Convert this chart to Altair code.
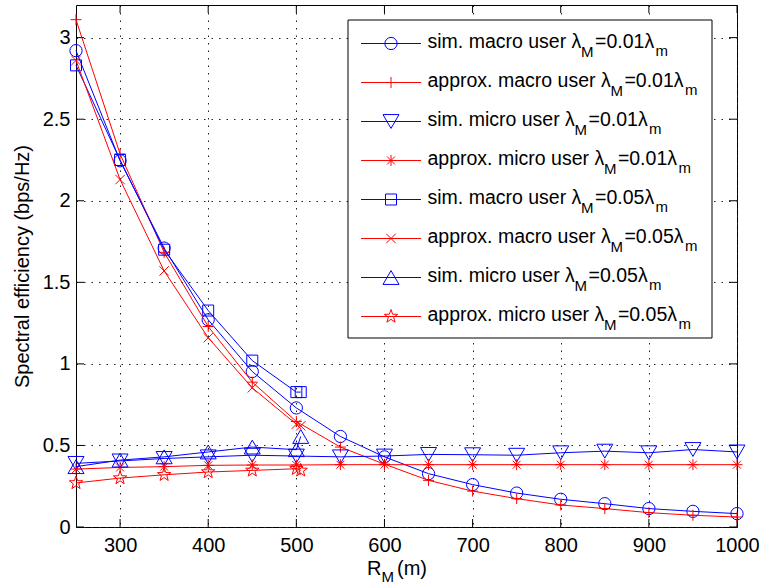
import math
import altair as alt
import pandas as pd

# ---------------- data ----------------
r_m_001 = [250, 300, 350, 400, 450, 500, 550, 600, 650, 700, 750, 800, 850, 900, 950, 1000]
sim_macro_001 = [2.92, 2.245, 1.71, 1.27, 0.953, 0.73, 0.555, 0.43, 0.327, 0.26, 0.208, 0.17, 0.143, 0.113, 0.096, 0.082]
approx_macro_001 = [3.11, 2.287, 1.684, 1.229, 0.888, 0.647, 0.49, 0.385, 0.286, 0.22, 0.174, 0.135, 0.113, 0.088, 0.072, 0.061]
sim_micro_001 = [0.39, 0.405, 0.42, 0.43, 0.44, 0.435, 0.43, 0.435, 0.445, 0.443, 0.44, 0.455, 0.465, 0.455, 0.475, 0.46]
approx_micro_001 = [0.355, 0.365, 0.37, 0.378, 0.38, 0.38, 0.382, 0.382, 0.382, 0.382, 0.382, 0.382, 0.382, 0.382, 0.382, 0.382]

r_m_005 = [250, 300, 350, 400, 450, 500, 505]
sim_macro_005 = [2.83, 2.25, 1.70, 1.327, 1.02, 0.827, 0.827]
approx_macro_005 = [2.86, 2.13, 1.57, 1.16, 0.853, 0.63, 0.62]
sim_micro_005 = [0.37, 0.41, 0.43, 0.46, 0.49, 0.474, 0.555]
approx_micro_005 = [0.27, 0.30, 0.32, 0.337, 0.347, 0.357, 0.347]

x_ticks = [300, 400, 500, 600, 700, 800, 900, 1000]
y_ticks = [0, 0.5, 1, 1.5, 2, 2.5, 3]

# ---------------- styles ----------------
W, H = 661, 522
FONT = "Liberation Sans"
BLUE, RED = "#0000ff", "#ff0000"

PLUS = "M-1,0L1,0M0,-1L0,1"
XMARK = "M-0.85,-0.85L0.85,0.85M-0.85,0.85L0.85,-0.85"
ASTER = "M-1,0L1,0M0,-1L0,1M-0.72,-0.72L0.72,0.72M-0.72,0.72L0.72,-0.72"
pts = []
for k in range(10):
    rad = 1.0 if k % 2 == 0 else 0.40
    ang = -math.pi / 2 + k * math.pi / 5
    pts.append(f"{rad * math.cos(ang):.3f},{rad * math.sin(ang):.3f}")
STAR = "M" + "L".join(pts) + "Z"

series = [
    ("sim. macro user ", "0.01", r_m_001, sim_macro_001, BLUE, "circle", 150),
    ("approx. macro user ", "0.01", r_m_001, approx_macro_001, RED, PLUS, 121),
    ("sim. micro user ", "0.01", r_m_001, sim_micro_001, BLUE, "triangle-down", 256),
    ("approx. micro user ", "0.01", r_m_001, approx_micro_001, RED, ASTER, 121),
    ("sim. macro user ", "0.05", r_m_005, sim_macro_005, BLUE, "square", 121),
    ("approx. macro user ", "0.05", r_m_005, approx_macro_005, RED, XMARK, 121),
    ("sim. micro user ", "0.05", r_m_005, sim_micro_005, BLUE, "triangle-up", 256),
    ("approx. micro user ", "0.05", r_m_005, approx_micro_005, RED, STAR, 196),
]

X = alt.X("x:Q", scale=alt.Scale(domain=[250, 1000], nice=False, zero=False),
          axis=alt.Axis(values=x_ticks, title=None, format="d", labelPadding=8,
                        labelFlush=False))
Y = alt.Y("y:Q", scale=alt.Scale(domain=[0, 3.2], nice=False, zero=False),
          axis=alt.Axis(values=y_ticks, title="Spectral efficiency (bps/Hz)",
                        labelExpr="datum.value + ''", labelPadding=6, labelFlush=False,
                        titleFont=FONT, titleFontSize=20, titleFontWeight="normal",
                        titleColor="black", titleAngle=270, titleX=-48, titleY=H / 2,
                        titleAlign="center", titleBaseline="alphabetic"))

layers = []

# inward ticks on all four sides
tx = pd.DataFrame({"x": x_ticks})
ty = pd.DataFrame({"y": y_ticks})
layers.append(alt.Chart(tx).mark_rule(color="black", strokeWidth=1).encode(x=X, y=alt.value(H), y2=alt.value(H - 8)))
layers.append(alt.Chart(tx).mark_rule(color="black", strokeWidth=1).encode(x=X, y=alt.value(0), y2=alt.value(8)))
layers.append(alt.Chart(ty).mark_rule(color="black", strokeWidth=1).encode(y=Y, x=alt.value(0), x2=alt.value(8)))
layers.append(alt.Chart(ty).mark_rule(color="black", strokeWidth=1).encode(y=Y, x=alt.value(W), x2=alt.value(W - 8)))

# data series
for prefix, lam, xs, ys, color, shape, size in series:
    df = pd.DataFrame({"x": xs, "y": ys})
    base = alt.Chart(df)
    layers.append(base.mark_line(color=color, strokeWidth=1).encode(x=X, y=Y))
    layers.append(base.mark_point(shape=shape, size=size, filled=False, color=color,
                                  strokeWidth=1, opacity=1).encode(x=X, y=Y))

# ---------------- manual legend ----------------
CW = {' ': 278, '(': 333, ')': 333, '.': 278, '0': 556, '1': 556, '5': 556, '=': 584,
      'M': 833, 'R': 722, 'a': 556, 'c': 500, 'e': 556, 'i': 222, 'm': 833, 'o': 556,
      'p': 556, 'r': 333, 's': 500, 'u': 556, 'x': 500}


def tw(s, fs):
    return sum(CW.get(c, 556) for c in s) * fs / 1000.0


one = pd.DataFrame({"d": [0]})
BOX_L, BOX_R, BOX_T, BOX_B = 272, 636, 15, 333
layers.append(alt.Chart(one).mark_rect(fill="white", stroke="black", strokeWidth=1).encode(
    x=alt.value(BOX_L), x2=alt.value(BOX_R), y=alt.value(BOX_T), y2=alt.value(BOX_B)))

FS, SUB = 19.5, 15
TX0 = 351.5
for i, (prefix, lam, xs, ys, color, shape, size) in enumerate(series):
    ly = 38.5 + 39 * i
    layers.append(alt.Chart(one).mark_rule(color=color, strokeWidth=1).encode(
        x=alt.value(285), x2=alt.value(345), y=alt.value(ly)))
    layers.append(alt.Chart(one).mark_point(shape=shape, size=size, filled=False, color=color,
                                            strokeWidth=1, opacity=1).encode(
        x=alt.value(315), y=alt.value(ly)))
    lx = TX0 + tw(prefix, FS)
    pieces = [
        (TX0, ly + 4.5, prefix + "λ", FS),
        (lx + 9.5, ly + 13, "M", SUB),
        (lx + 23.5, ly + 4.5, "=" + lam + "λ", FS),
        (lx + 84, ly + 12, "m", SUB),
    ]
    for px, py, txt, fs in pieces:
        layers.append(alt.Chart(one).mark_text(align="left", baseline="alphabetic", font=FONT,
                                               fontSize=fs, color="black").encode(
            x=alt.value(px), y=alt.value(py), text=alt.value(txt)))

# x axis title  R_M (m)
for px, py, txt, fs in [(291, 570, "R", 20), (305.5, 577, "M", SUB), (321, 570, " (m)", 20)]:
    layers.append(alt.Chart(one).mark_text(align="left", baseline="alphabetic", font=FONT,
                                           fontSize=fs, color="black").encode(
        x=alt.value(px), y=alt.value(py), text=alt.value(txt)))

chart = alt.layer(*layers).properties(
    width=W, height=H,
    autosize=alt.AutoSizeParams(type="none"),
    padding={"left": 76, "top": 5, "right": 22, "bottom": 59},
    background="white",
).configure_view(stroke="black", strokeWidth=1).configure_axis(
    labelFont=FONT, labelFontSize=20, labelColor="black",
    ticks=False, tickSize=0, domain=False,
    grid=True, gridColor="#222222", gridDash=[1.5, 6], gridWidth=1, gridOpacity=1,
)

chart.save("out.html", embed_options={"renderer": "svg", "actions": False})
